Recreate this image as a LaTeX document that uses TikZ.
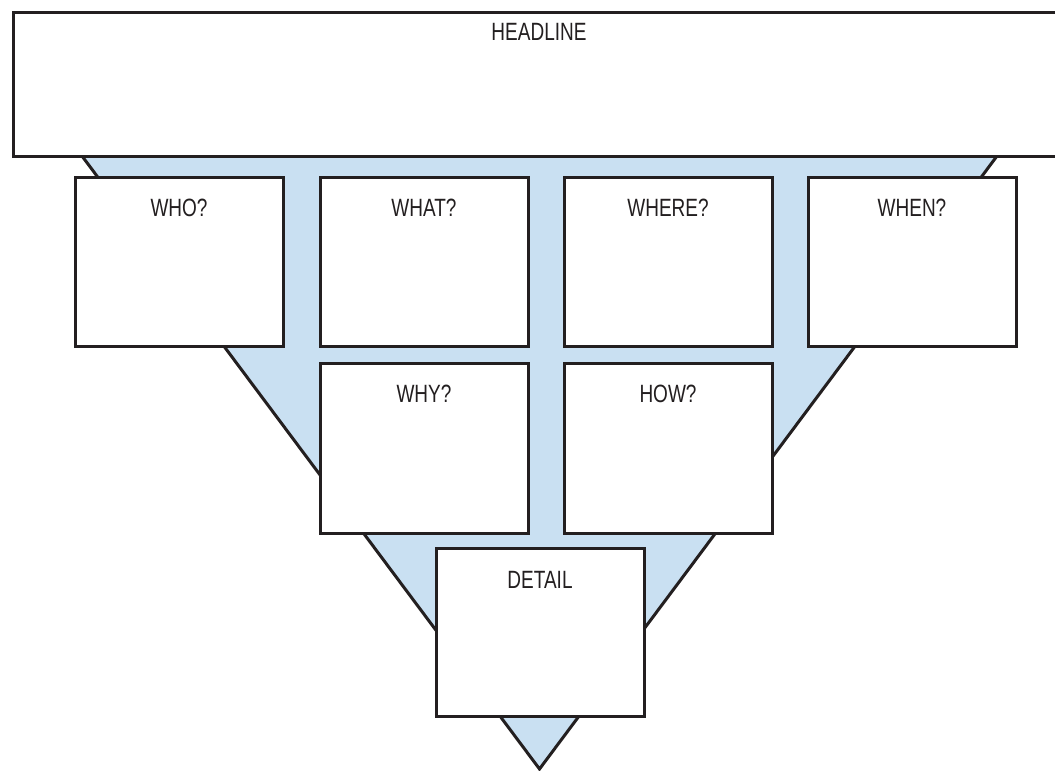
\documentclass[tikz,border=0pt]{standalone}
\usepackage{fontspec}
\setmainfont[FakeStretch=0.76]{Liberation Sans}
\definecolor{ink}{RGB}{35,31,32}
\definecolor{funnel}{RGB}{201,224,242}
\begin{document}
\begin{tikzpicture}[x=1pt,y=-1pt,
  card/.style={draw=ink,line width=3pt,fill=white},
  lbl/.style={anchor=base,inner sep=0pt,text=ink,font=\fontsize{25}{30}\selectfont},
  wedge/.style={draw=ink,line width=3pt,line join=miter}]
\useasboundingbox (0,0) rectangle (1055,771);
% funnel
\coordinate (tl) at (82,156);
\coordinate (tr) at (997,156);
\coordinate (tip) at (539.5,769);
\fill[funnel] (tl) -- (tip) -- (tr) -- cycle;
\draw[wedge] (tl) -- (tip) -- (tr);
% headline
\draw[card] (13,12) rectangle (1075,156);
\node[lbl] (headline) at (539,40) {HEADLINE};
% row 1
\draw[card] (75,177) rectangle (283,346);
\node[lbl] (who) at (179,216) {WHO?};
\draw[card] (320,177) rectangle (528,346);
\node[lbl] (what) at (424,216) {WHAT?};
\draw[card] (564,177) rectangle (772,346);
\node[lbl] (where) at (668,216) {WHERE?};
\draw[card] (808,177) rectangle (1016,346);
\node[lbl] (when) at (912,216) {WHEN?};
% row 2
\draw[card] (320,363) rectangle (528,533);
\node[lbl] (why) at (424,402) {WHY?};
\draw[card] (564,363) rectangle (772,533);
\node[lbl] (how) at (668,402) {HOW?};
% row 3
\draw[card] (436,548) rectangle (644,716);
\node[lbl] (detail) at (540,588) {DETAIL};
\end{tikzpicture}
\end{document}
